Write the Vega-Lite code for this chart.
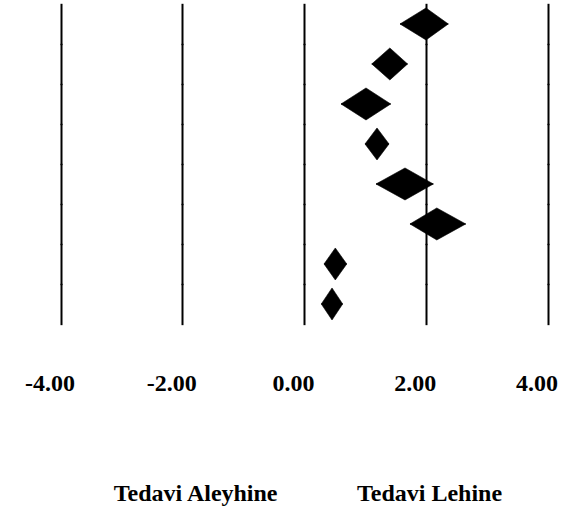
{
  "$schema": "https://vega.github.io/schema/vega-lite/v6.json",
  "background": "white",
  "padding": {"left": 0, "top": 4.3, "right": 0, "bottom": 0},
  "config": {
    "view": {"stroke": null},
    "axisY": {"disable": true},
    "axisX": {
      "domain": false,
      "ticks": false,
      "tickSize": 0,
      "grid": true,
      "gridColor": "black",
      "gridWidth": 2,
      "gridOpacity": 1,
      "gridCap": "square",
      "labelFont": "Liberation Serif",
      "labelFontSize": 24,
      "labelFontWeight": "bold",
      "labelColor": "black",
      "labelBaseline": "alphabetic",
      "labelPadding": 65.8,
      "labelOffset": -11,
      "labelFlush": false,
      "labelOverlap": false,
      "labelBound": false
    }
  },
  "data": {
    "values": [
      {"study": 1, "lower": 1.577, "est": 2.004, "upper": 2.370},
      {"study": 2, "lower": 1.113, "est": 1.410, "upper": 1.701},
      {"study": 3, "lower": 0.608, "est": 1.018, "upper": 1.424},
      {"study": 4, "lower": 1.002, "est": 1.199, "upper": 1.396},
      {"study": 5, "lower": 1.183, "est": 1.659, "upper": 2.124},
      {"study": 6, "lower": 1.741, "est": 2.181, "upper": 2.656},
      {"study": 7, "lower": 0.329, "est": 0.514, "upper": 0.702},
      {"study": 8, "lower": 0.284, "est": 0.460, "upper": 0.635}
    ]
  },
  "facet": {"row": {"field": "study", "type": "ordinal", "header": null}},
  "spacing": 0,
  "bounds": "flush",
  "spec": {
    "width": 574,
    "height": 39.36,
    "resolve": {"scale": {"y": "independent"}},
    "layer": [
      {
        "transform": [
          {"fold": ["lower", "est", "upper"], "as": ["k", "v"]},
          {"window": [{"op": "count", "as": "cnt"}], "frame": [-1, 1], "groupby": ["study"], "sort": [{"field": "v", "order": "ascending"}]}
        ],
        "mark": {"type": "area", "color": "black", "stroke": "black", "strokeWidth": 0.6},
        "encoding": {
          "x": {"field": "v", "type": "quantitative", "scale": {"domain": [-4.994, 4.435], "nice": false, "zero": false}, "axis": {"title": null, "values": [-4, -2, 0, 2, 4], "labelExpr": "(datum.value < 0 ? '-' : '') + format(abs(datum.value), '.2f')"}},
          "y": {"field": "cnt", "type": "quantitative", "stack": null, "scale": {"domain": [0.77, 3.23], "nice": false, "zero": false}, "axis": null},
          "y2": {"datum": 2}
        }
      },
      {
        "transform": [
          {"fold": ["lower", "est", "upper"], "as": ["k", "v"]},
          {"window": [{"op": "count", "as": "cnt"}], "frame": [-1, 1], "groupby": ["study"], "sort": [{"field": "v", "order": "ascending"}]}
        ],
        "mark": {"type": "area", "color": "black", "stroke": "black", "strokeWidth": 0.6},
        "encoding": {
          "x": {"field": "v", "type": "quantitative", "scale": {"domain": [-4.994, 4.435], "nice": false, "zero": false}, "axis": {"title": null, "values": [-4, -2, 0, 2, 4], "labelExpr": "(datum.value < 0 ? '-' : '') + format(abs(datum.value), '.2f')"}},
          "y": {"field": "cnt", "type": "quantitative", "stack": null, "scale": {"domain": [0.77, 3.23], "nice": false, "zero": false, "reverse": true}, "axis": null},
          "y2": {"datum": 2}
        }
      },
      {
        "transform": [{"filter": "datum.study == 8"}],
        "mark": {"type": "text", "text": "Tedavi Aleyhine", "font": "Liberation Serif", "fontSize": 24, "fontWeight": "bold", "color": "black", "align": "center", "baseline": "alphabetic"},
        "encoding": {
          "x": {"datum": -1.78, "type": "quantitative", "scale": {"domain": [-4.994, 4.435], "nice": false, "zero": false}, "axis": {"title": null, "values": [-4, -2, 0, 2, 4], "labelExpr": "(datum.value < 0 ? '-' : '') + format(abs(datum.value), '.2f')"}},
          "y": {"datum": -10.345, "type": "quantitative", "scale": {"domain": [0.77, 3.23], "nice": false, "zero": false}, "axis": null}
        }
      },
      {
        "transform": [{"filter": "datum.study == 8"}],
        "mark": {"type": "text", "text": "Tedavi Lehine", "font": "Liberation Serif", "fontSize": 24, "fontWeight": "bold", "color": "black", "align": "center", "baseline": "alphabetic"},
        "encoding": {
          "x": {"datum": 2.062, "type": "quantitative", "scale": {"domain": [-4.994, 4.435], "nice": false, "zero": false}, "axis": {"title": null, "values": [-4, -2, 0, 2, 4], "labelExpr": "(datum.value < 0 ? '-' : '') + format(abs(datum.value), '.2f')"}},
          "y": {"datum": -10.345, "type": "quantitative", "scale": {"domain": [0.77, 3.23], "nice": false, "zero": false}, "axis": null}
        }
      }
    ]
  }
}
